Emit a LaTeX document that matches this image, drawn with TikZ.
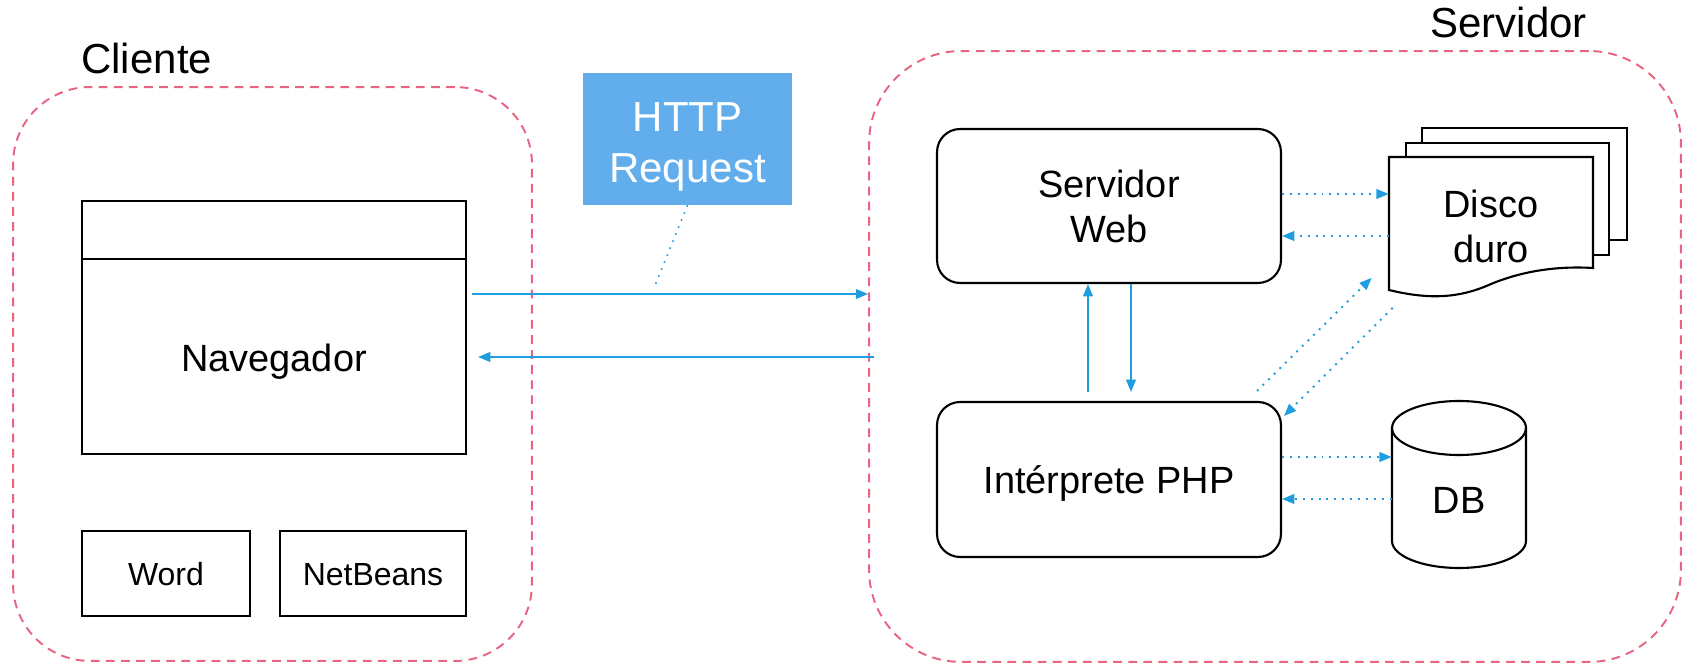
\documentclass[tikz,border=0pt]{standalone}
\usepackage{fontspec}
\setmainfont{Liberation Sans}
\usetikzlibrary{arrows.meta,calc}
\definecolor{flowblue}{RGB}{30,158,222}
\definecolor{reqblue}{RGB}{98,174,237}
\definecolor{zonered}{RGB}{232,100,128}
\tikzset{
  zone/.style={draw=zonered, line width=1.1pt, dash pattern=on 5pt off 3.6pt},
  zonelabel/.style={font=\fontsize{23.9}{28.7}\selectfont, anchor=base west, inner sep=0pt},
  txt/.style={inner sep=0pt, align=center, font=\fontsize{21.6}{25.6}\selectfont},
  oneline/.style={text height=15.6pt, text depth=0pt},
  box/.style={txt, draw, line width=1.2pt, fill=white},
  roundbox/.style={box, rounded corners=0.46cm},
  smallbox/.style={box, font=\fontsize{18.2}{21.8}\selectfont, text height=13.1pt, text depth=0pt},
  flow/.style={draw=flowblue, line width=1.1pt, -{Triangle[length=7pt,width=5.5pt]}},
  flowdot/.style={flow, dash pattern=on 1.1pt off 3.4pt},
}
\begin{document}
\begin{tikzpicture}[x=0.02cm, y=-0.02cm]
            \useasboundingbox (0,0) rectangle (1688,665);

            % Client zone
            \node[zone, minimum width=10.38cm, minimum height=11.48cm, rounded corners=1.54cm] (cliente) at (272.5,374) {};
            \node[zonelabel] (clientelabel) at (81,74) {Cliente};

            % Server zone
            \node[zone, minimum width=16.24cm, minimum height=12.22cm, rounded corners=1.84cm] (servidor) at (1275,356.5) {};
            \node[zonelabel] (servidorlabel) at (1430,38) {Servidor};

            % Browser window
            \node[box, minimum width=7.68cm, minimum height=5.06cm] (nav) at (274,327.5) {};
            \draw[line width=1.2pt] (nav.north west |- 0,259) -- (nav.north east |- 0,259);
            \node[txt, oneline] (navtext) at (274,358) {Navegador};

            % Other client programs
            \node[smallbox, minimum width=3.36cm, minimum height=1.7cm] (word) at (166,573.5) {Word};
            \node[smallbox, minimum width=3.72cm, minimum height=1.7cm] (netbeans) at (373,573.5) {NetBeans};

            % Request label
            \node[fill=reqblue, minimum width=4.18cm, minimum height=2.64cm] (http) at (687.5,139) {};
            \node[txt, text=white, font=\fontsize{23.9}{29}\selectfont] (httptext) at (687.5,147) {HTTP\\Request};
            \coordinate (reqpt) at (654,288);
            \draw[flowblue, line width=0.9pt, dash pattern=on 0.9pt off 3.4pt] (http.south) -- (reqpt);

            % Server boxes
            \node[roundbox, minimum width=6.88cm, minimum height=3.08cm] (web) at (1109,206) {Servidor\\Web};
            \node[roundbox, oneline, minimum width=6.88cm, minimum height=3.1cm] (php) at (1109,479.5) {Intérprete PHP};

            % Hard disk (stack of pages)
            \draw[line width=1.2pt, fill=white] (1422,128) rectangle (1627,240);
            \draw[line width=1.2pt, fill=white] (1406,143) rectangle (1609,255);
            \draw[line width=1.2pt, fill=white] (1389,157) -- (1593,157) -- (1593,268)
                .. controls (1560,266) and (1525,270) .. (1491,284)
                .. controls (1460,298) and (1430,300) .. (1389,290) -- cycle;
            \node[txt, minimum width=4.08cm, minimum height=2.66cm] (disco) at (1491,226) {Disco\\duro};

            % Database
            \draw[line width=1.2pt, fill=white] (1392,428) -- (1392,541)
                arc[start angle=180, end angle=360, x radius=1.34cm, y radius=0.54cm] -- (1526,428)
                arc[start angle=0, end angle=180, x radius=1.34cm, y radius=0.54cm] -- cycle;
            \draw[line width=1.2pt] (1392,428) arc[start angle=180, end angle=360, x radius=1.34cm, y radius=0.54cm];
            \node[txt, minimum width=2.68cm, minimum height=3.34cm] (db) at (1459,484.5) {};
            \node[txt, oneline] (dblabel) at (1459,500) {DB};

            % Request and response
            \draw[flow] ($(nav.east |- 0,294)+(5,0)$) -- (servidor.west |- 0,294);
            \draw[flow] ($(servidor.west |- 0,357)+(6,0)$) -- ($(nav.east |- 0,357)+(11,0)$);

            % Web server <-> PHP
            \draw[flow] ($(php.north)+(-21,-9)$) -- ($(web.south)+(-21,0)$);
            \draw[flow] ($(web.south)+(22,0)$) -- ($(php.north)+(22,-9)$);

            % Web server <-> disk
            \draw[flowdot] (web.east |- 0,194) -- (disco.west |- 0,194);
            \draw[flowdot] (disco.west |- 0,236) -- (web.east |- 0,236);

            % PHP <-> disk
            \draw[flowdot] ($(php.north east)+(-25,-10)$) -- ($(disco.south west)+(-17,-15)$);
            \draw[flowdot] ($(disco.south west)+(4,15)$) -- ($(php.north east)+(2,15)$);

            % PHP <-> database
            \draw[flowdot] (php.east |- 0,457) -- (db.west |- 0,457);
            \draw[flowdot] (db.west |- 0,499) -- (php.east |- 0,499);
        \end{tikzpicture}
\end{document}
